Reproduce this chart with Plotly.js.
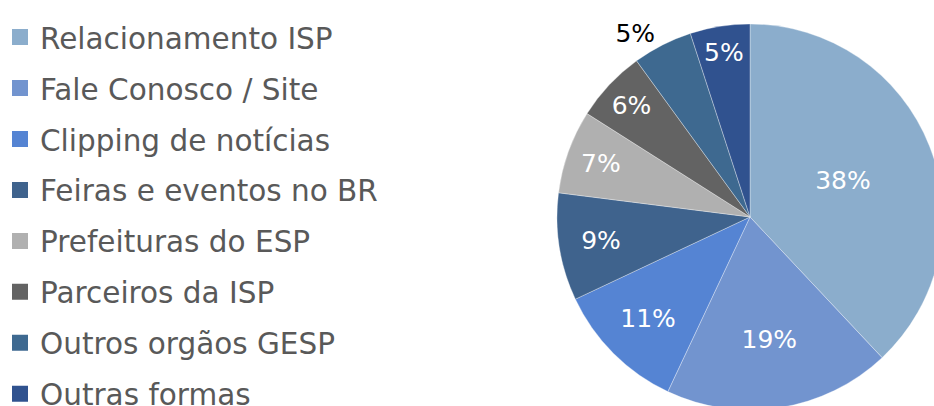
<!DOCTYPE html>
<html>
<head>
<meta charset="utf-8">
<script src="https://cdn.plot.ly/plotly-3.0.1.min.js"></script>
<style>
html, body { margin: 0; padding: 0; overflow: hidden; background: #ffffff; }
#chart { width: 1000px; height: 440px; }
</style>
</head>
<body>
<div id="chart"></div>
<script>
const categories = [
  "Relacionamento ISP",
  "Fale Conosco / Site",
  "Clipping de notícias",
  "Feiras e eventos no BR",
  "Prefeituras do ESP",
  "Parceiros da ISP",
  "Outros orgãos GESP",
  "Outras formas"
];
const shares = [38, 19, 11, 9, 7, 6, 5, 5];
const sliceColors = ["#8BADCC", "#7294CF", "#5584D3", "#3F638D", "#B0B0B0", "#636363", "#3E6990", "#30528F"];
const labelPlacement = ["inside", "inside", "inside", "inside", "inside", "inside", "outside", "inside"];

const pieTrace = {
  type: "pie",
  labels: categories,
  values: shares,
  sort: false,
  direction: "clockwise",
  rotation: 0,
  showlegend: false,
  marker: { colors: sliceColors, line: { color: "rgba(255,255,255,0.55)", width: 0.6 } },
  texttemplate: "%{value}%",
  textposition: labelPlacement,
  insidetextorientation: "horizontal",
  insidetextfont: { family: "DejaVu Sans", size: 25, color: "#ffffff" },
  outsidetextfont: { family: "DejaVu Sans", size: 25, color: "#000000" },
  hoverinfo: "label+percent",
  domain: { x: [0.557, 0.943], y: [0.0682, 0.9455] }
};

const legendTraces = categories.map((name, i) => ({
  type: "scatter",
  mode: "markers",
  x: [null],
  y: [null],
  name: name,
  legendgroup: "g" + i,
  showlegend: true,
  marker: { symbol: "square", size: 16, color: sliceColors[i] },
  hoverinfo: "skip"
}));

const layout = {
  width: 1000,
  height: 440,
  margin: { l: 0, r: 0, t: 0, b: 0 },
  paper_bgcolor: "#ffffff",
  plot_bgcolor: "#ffffff",
  font: { family: "DejaVu Sans", color: "#595959" },
  xaxis: { visible: false, domain: [0, 0.01] },
  yaxis: { visible: false, domain: [0, 0.01] },
  showlegend: true,
  legend: {
    x: 0.0,
    y: 0.974,
    xanchor: "left",
    yanchor: "top",
    traceorder: "grouped",
    tracegroupgap: 9.6,
    font: { family: "DejaVu Sans", size: 29.5, color: "#595959" },
    bgcolor: "rgba(0,0,0,0)",
    itemclick: false,
    itemdoubleclick: false
  }
};

Plotly.newPlot("chart", [pieTrace].concat(legendTraces), layout, { displayModeBar: false, staticPlot: true });
</script>
</body>
</html>
